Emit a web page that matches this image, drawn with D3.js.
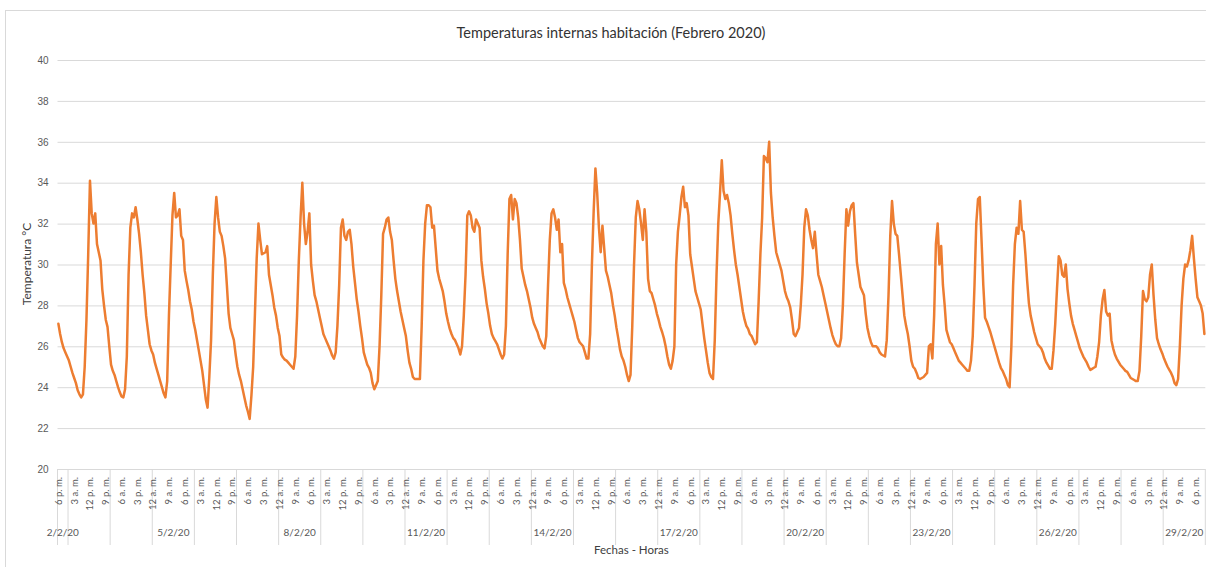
<!DOCTYPE html>
<html>
<head>
<meta charset="utf-8">
<script src="https://cdn.jsdelivr.net/npm/d3@7"></script>
<style>
  body { margin: 0; background: #fff; }
  svg { display: block; font-family: Lato, "Open Sans", sans-serif; }
  .tick text { fill: #595959; }
</style>
</head>
<body>
<svg width="1206" height="567"></svg>
<script>
// Temperaturas internas habitación - lecturas horarias, febrero 2020
var titulo = "Temperaturas internas habitación (Febrero 2020)";
var ejeY = "Temperatura °C";
var ejeX = "Fechas - Horas";

var horasDia = ["12 a. m.", "1 a. m.", "2 a. m.", "3 a. m.", "4 a. m.", "5 a. m.",
  "6 a. m.", "7 a. m.", "8 a. m.", "9 a. m.", "10 a. m.", "11 a. m.",
  "12 p. m.", "1 p. m.", "2 p. m.", "3 p. m.", "4 p. m.", "5 p. m.",
  "6 p. m.", "7 p. m.", "8 p. m.", "9 p. m.", "10 p. m.", "11 p. m."];

var dias = ["2/2/20", "3/2/20", "4/2/20", "5/2/20", "6/2/20", "7/2/20", "8/2/20",
  "9/2/20", "10/2/20", "11/2/20", "12/2/20", "13/2/20", "14/2/20", "15/2/20",
  "16/2/20", "17/2/20", "18/2/20", "19/2/20", "20/2/20", "21/2/20", "22/2/20",
  "23/2/20", "24/2/20", "25/2/20", "26/2/20", "27/2/20", "28/2/20", "29/2/20"];

var yTicks = [20, 22, 24, 26, 28, 30, 32, 34, 36, 38, 40];

// 2/2 empieza a las 6 p. m.
var feb02 = [27.1, 26.6, 26.2, 25.9, 25.7, 25.5];
var feb03 = [25.3, 25.0, 24.7, 24.45, 24.2, 23.85, 23.65, 23.5, 23.65, 25.0, 27.3, 30.5, 34.1, 32.5, 32.0, 32.5, 31.0, 30.6, 30.2, 28.8, 28.0, 27.3, 26.95, 26.0];
var feb04 = [25.1, 24.8, 24.6, 24.3, 24.0, 23.75, 23.55, 23.5, 23.9, 25.5, 29.5, 31.8, 32.5, 32.3, 32.8, 32.2, 31.5, 30.6, 29.5, 28.6, 27.5, 26.8, 26.1, 25.8];
var feb05 = [25.6, 25.2, 24.9, 24.6, 24.3, 24.0, 23.7, 23.5, 24.3, 27.5, 30.0, 32.4, 33.5, 32.3, 32.4, 32.7, 31.4, 31.2, 29.7, 29.2, 28.75, 28.2, 27.8, 27.2];
var feb06 = [26.8, 26.3, 25.8, 25.3, 24.8, 24.1, 23.4, 23.0, 24.5, 26.3, 29.5, 32.0, 33.3, 32.3, 31.6, 31.4, 30.9, 30.3, 29.0, 27.6, 26.9, 26.6, 26.3, 25.6];
var feb07 = [25.0, 24.6, 24.3, 23.9, 23.5, 23.1, 22.8, 22.45, 23.6, 25.0, 27.6, 30.3, 32.0, 31.2, 30.5, 30.55, 30.6, 30.9, 29.5, 29.0, 28.5, 27.9, 27.5, 26.9];
var feb08 = [26.5, 25.6, 25.45, 25.35, 25.3, 25.2, 25.1, 25.0, 24.9, 25.5, 27.5, 30.2, 32.3, 34.0, 32.0, 31.0, 31.6, 32.5, 30.0, 29.2, 28.5, 28.2, 27.8, 27.4];
var feb09 = [27.0, 26.6, 26.4, 26.2, 26.0, 25.8, 25.55, 25.4, 25.7, 27.0, 29.0, 31.8, 32.2, 31.4, 31.2, 31.6, 31.7, 31.0, 29.9, 29.1, 28.3, 27.7, 27.0, 26.4];
var feb10 = [25.7, 25.4, 25.1, 24.95, 24.7, 24.2, 23.9, 24.1, 24.3, 26.0, 28.5, 31.5, 31.8, 32.2, 32.3, 31.6, 31.2, 30.2, 29.3, 28.7, 28.2, 27.7, 27.3, 26.9];
var feb11 = [26.5, 25.8, 25.2, 24.9, 24.5, 24.4, 24.4, 24.4, 24.4, 27.0, 30.2, 32.0, 32.9, 32.9, 32.8, 31.8, 31.9, 30.8, 29.7, 29.3, 29.0, 28.7, 28.2, 27.6];
var feb12 = [27.2, 26.85, 26.6, 26.4, 26.3, 26.1, 25.9, 25.6, 26.0, 27.5, 29.5, 32.4, 32.6, 32.4, 31.8, 31.6, 32.2, 32.0, 31.8, 30.2, 29.4, 28.8, 28.1, 27.6];
var feb13 = [27.0, 26.6, 26.4, 26.25, 26.1, 25.85, 25.6, 25.4, 25.6, 27.0, 30.5, 33.2, 33.4, 32.2, 33.2, 33.0, 32.3, 31.2, 29.8, 29.4, 29.0, 28.7, 28.3, 27.9];
var feb14 = [27.4, 27.1, 26.9, 26.7, 26.4, 26.2, 26.0, 25.9, 26.5, 29.0, 31.2, 32.5, 32.7, 32.3, 31.7, 32.2, 30.6, 31.0, 29.1, 28.8, 28.4, 28.1, 27.8, 27.5];
var feb15 = [27.2, 26.8, 26.4, 26.2, 26.1, 26.0, 25.7, 25.4, 25.4, 26.6, 30.0, 32.6, 34.7, 33.5, 31.8, 30.6, 31.9, 30.8, 29.7, 29.4, 29.0, 28.6, 28.0, 27.5];
var feb16 = [26.9, 26.4, 25.85, 25.5, 25.3, 25.0, 24.6, 24.3, 24.6, 27.0, 30.0, 32.3, 33.1, 32.7, 32.0, 31.2, 32.7, 31.6, 29.3, 28.7, 28.6, 28.3, 28.0, 27.6];
var feb17 = [27.3, 26.95, 26.7, 26.4, 26.0, 25.5, 25.1, 24.9, 25.3, 26.0, 30.0, 31.6, 32.4, 33.3, 33.8, 32.8, 33.0, 32.4, 30.5, 29.9, 29.3, 28.7, 28.4, 28.1];
var feb18 = [27.8, 27.1, 26.4, 25.8, 25.2, 24.7, 24.5, 24.4, 26.3, 29.5, 32.0, 33.5, 35.1, 33.6, 33.2, 33.4, 33.0, 32.4, 31.5, 30.7, 30.0, 29.5, 28.9, 28.3];
var feb19 = [27.7, 27.3, 27.0, 26.85, 26.6, 26.5, 26.3, 26.1, 26.2, 28.2, 30.5, 32.3, 35.3, 35.2, 35.0, 36.0, 33.5, 32.3, 31.4, 30.6, 30.3, 30.0, 29.7, 29.2];
var feb20 = [28.7, 28.4, 28.2, 27.9, 27.3, 26.6, 26.5, 26.7, 26.9, 28.0, 29.5, 31.8, 32.7, 32.4, 31.7, 31.2, 30.8, 31.6, 30.5, 29.5, 29.2, 28.9, 28.5, 28.1];
var feb21 = [27.7, 27.3, 26.9, 26.55, 26.3, 26.1, 26.0, 26.0, 26.4, 28.0, 30.5, 32.7, 31.9, 32.6, 32.9, 33.0, 31.5, 30.1, 29.5, 28.9, 28.7, 28.5, 27.6, 26.9];
var feb22 = [26.5, 26.2, 26.0, 26.0, 26.0, 25.9, 25.7, 25.6, 25.55, 25.5, 26.3, 28.5, 31.4, 33.1, 32.0, 31.5, 31.4, 30.5, 29.5, 28.5, 27.5, 27.0, 26.6, 26.0];
var feb23 = [25.3, 25.0, 24.9, 24.7, 24.45, 24.4, 24.45, 24.5, 24.6, 24.7, 26.0, 26.1, 25.4, 27.5, 31.0, 32.0, 30.0, 30.9, 29.0, 28.0, 26.8, 26.5, 26.2, 26.1];
var feb24 = [25.9, 25.7, 25.5, 25.3, 25.2, 25.1, 25.0, 24.9, 24.8, 24.8, 25.3, 26.5, 29.0, 32.0, 33.2, 33.3, 31.2, 29.0, 27.4, 27.2, 26.95, 26.7, 26.4, 26.1];
var feb25 = [25.8, 25.5, 25.2, 24.95, 24.8, 24.6, 24.4, 24.1, 24.0, 26.0, 29.0, 31.0, 31.8, 31.5, 33.1, 31.7, 31.6, 30.5, 29.2, 28.1, 27.5, 27.1, 26.7, 26.4];
var feb26 = [26.1, 26.0, 25.9, 25.7, 25.4, 25.2, 25.05, 24.9, 24.9, 25.8, 27.1, 28.8, 30.4, 30.2, 29.5, 29.4, 30.0, 28.8, 28.1, 27.5, 27.1, 26.8, 26.5, 26.2];
var feb27 = [25.9, 25.7, 25.5, 25.35, 25.2, 25.0, 24.85, 24.9, 24.95, 25.0, 25.5, 26.2, 27.5, 28.3, 28.75, 27.7, 27.5, 27.6, 26.3, 25.9, 25.6, 25.4, 25.25, 25.1];
var feb28 = [25.0, 24.9, 24.8, 24.75, 24.6, 24.45, 24.4, 24.35, 24.3, 24.3, 24.8, 26.5, 28.7, 28.3, 28.2, 28.4, 29.5, 30.0, 28.5, 27.3, 26.4, 26.1, 25.85, 25.65];
var feb29 = [25.4, 25.2, 25.0, 24.85, 24.7, 24.5, 24.2, 24.1, 24.4, 26.0, 28.0, 29.3, 30.0, 29.9, 30.2, 30.7, 31.4, 30.3, 29.3, 28.4, 28.2, 28.0, 27.6, 26.6];

var porDia = [feb02, feb03, feb04, feb05, feb06, feb07, feb08, feb09, feb10, feb11,
  feb12, feb13, feb14, feb15, feb16, feb17, feb18, feb19, feb20, feb21, feb22,
  feb23, feb24, feb25, feb26, feb27, feb28, feb29];

// armar la serie con fecha y hora de cada lectura
var data = [];
porDia.forEach(function(vals, di) {
  var h0 = 24 - vals.length;
  vals.forEach(function(v, k) {
    data.push({dia: di, hora: h0 + k, temp: v});
  });
});
data.forEach(function(d, i) { d.i = i; });

var svg = d3.select("svg"),
    margin = {top: 60, right: 0.7, bottom: 98, left: 57.5},
    width = +svg.attr("width") - margin.left - margin.right,
    height = +svg.attr("height") - margin.top - margin.bottom;

// borde del area del grafico
svg.append("rect")
    .attr("x", 5.5).attr("y", 10.5)
    .attr("width", 1300).attr("height", 700)
    .attr("fill", "none")
    .attr("stroke", "#d9d9d9");

var x = d3.scaleBand().domain(d3.range(data.length)).range([0, width]);
var y = d3.scaleLinear().domain([20, 40]).range([height, 0]);

var g = svg.append("g")
    .attr("transform", "translate(" + margin.left + "," + margin.top + ")");

// lineas de cuadricula
g.append("g")
    .attr("class", "grid")
    .call(d3.axisLeft(y).tickValues(yTicks).tickSize(-width).tickFormat(""))
    .call(function(s) {
      s.select(".domain").remove();
      s.selectAll("line").attr("stroke", "#d9d9d9").attr("stroke-width", 1);
    });

g.append("g")
    .attr("class", "y axis")
    .call(d3.axisLeft(y).tickValues(yTicks).tickSize(0).tickPadding(9))
    .call(function(s) {
      s.select(".domain").remove();
      s.selectAll("text").attr("font-size", "10px");
    });

// separadores de dias
var inicios = data.filter(function(d) { return d.hora === 0; }).map(function(d) { return x(d.i); });
inicios.unshift(0);
inicios.push(width);
g.selectAll(".sep")
    .data(inicios)
  .enter().append("line")
    .attr("class", "sep")
    .attr("x1", function(d) { return d; })
    .attr("x2", function(d) { return d; })
    .attr("y1", height)
    .attr("y2", height + 76)
    .attr("stroke", "#d9d9d9");

// etiquetas de hora, una cada 9 lecturas
g.selectAll(".hora")
    .data(data.filter(function(d) { return d.i % 9 === 0; }))
  .enter().append("text")
    .attr("class", "hora")
    .attr("transform", function(d) {
      return "translate(" + (x(d.i) + x.bandwidth() / 2) + "," + (height + 8) + ") rotate(-90)";
    })
    .attr("dy", "0.35em")
    .attr("text-anchor", "end")
    .attr("font-size", "9.5px")
    .attr("fill", "#595959")
    .text(function(d) { return horasDia[d.hora]; });

// etiquetas de fecha, una cada 3 dias
var dayCenter = function(di) {
  var pts = data.filter(function(d) { return d.dia === di; });
  var a = x(pts[0].i), b = x(pts[pts.length - 1].i) + x.bandwidth();
  return (a + b) / 2;
};
g.selectAll(".fecha")
    .data(dias.filter(function(d, i) { return i % 3 === 0; }))
  .enter().append("text")
    .attr("class", "fecha")
    .attr("x", function(d) { return dayCenter(dias.indexOf(d)); })
    .attr("y", height + 67)
    .attr("text-anchor", "middle")
    .attr("font-size", "10px")
    .attr("fill", "#595959")
    .text(function(d) { return d; });

var line = d3.line()
    .x(function(d) { return x(d.i) + x.bandwidth() / 2; })
    .y(function(d) { return y(d.temp); });

g.append("path")
    .datum(data)
    .attr("fill", "none")
    .attr("stroke", "#ED7D31")
    .attr("stroke-width", 2.5)
    .attr("stroke-linejoin", "round")
    .attr("stroke-linecap", "round")
    .attr("d", line);

// titulos
svg.append("text")
    .attr("x", 611).attr("y", 38)
    .attr("text-anchor", "middle")
    .attr("font-size", "14.5px")
    .attr("fill", "#333")
    .text(titulo);

svg.append("text")
    .attr("transform", "translate(31,264) rotate(-90)")
    .attr("text-anchor", "middle")
    .attr("font-size", "12px")
    .attr("fill", "#404040")
    .text(ejeY);

svg.append("text")
    .attr("x", margin.left + width / 2).attr("y", 554)
    .attr("text-anchor", "middle")
    .attr("font-size", "11.5px")
    .attr("fill", "#404040")
    .text(ejeX);
</script>
</body>
</html>
